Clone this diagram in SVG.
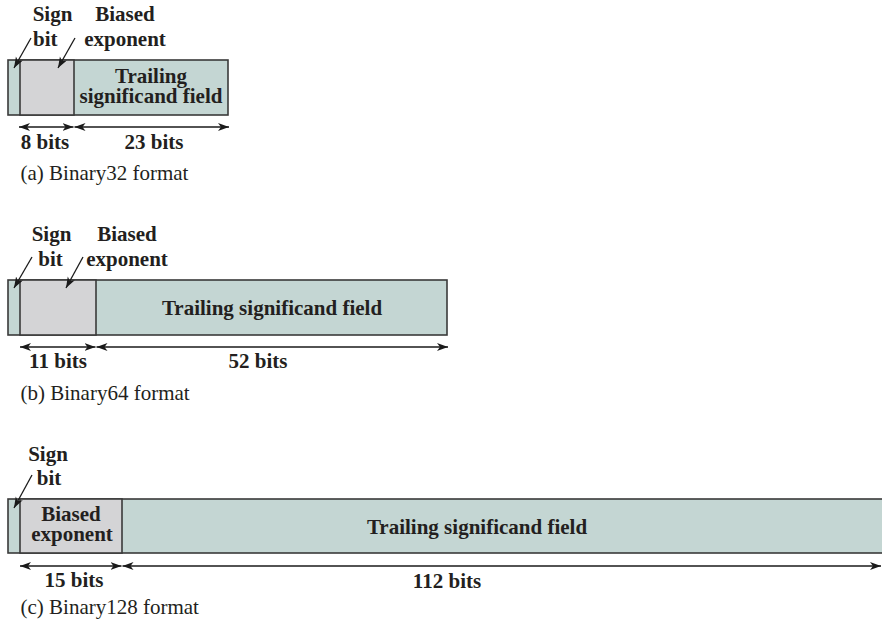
<svg xmlns="http://www.w3.org/2000/svg" width="882" height="623" viewBox="0 0 882 623">
<defs>
<marker id="ah" markerUnits="userSpaceOnUse" markerWidth="12" markerHeight="10" refX="11" refY="4" orient="auto-start-reverse">
<path d="M0,0 L11,4 L0,8 L3,4 z" fill="#1a1a1a"/>
</marker>
<style>
.sig{fill:#c4d6d3;stroke:#3a3a3a;stroke-width:1.6}
.exp{fill:#d4d4d6;stroke:#3a3a3a;stroke-width:1.6}
.b{font-family:"Liberation Serif","Times New Roman",serif;font-weight:bold;font-size:21px;fill:#231f20}
.r{font-family:"Liberation Serif","Times New Roman",serif;font-size:21px;fill:#231f20}
.m{text-anchor:middle}
.ln{stroke:#1a1a1a;stroke-width:1.3;fill:none;marker-end:url(#ah)}
.dim{stroke:#1a1a1a;stroke-width:1.3;fill:none;marker-start:url(#ah);marker-end:url(#ah)}
</style>
</defs>

<!-- (a) Binary32 -->
<g id="binary32">
<rect class="sig" x="8" y="60" width="220" height="55"/>
<rect class="exp" x="20" y="60" width="54" height="55"/>
<text class="b m" x="52.5" y="21">Sign</text>
<text class="b" x="33" y="46">bit</text>
<text class="b m" x="125" y="21">Biased</text>
<text class="b m" x="125" y="46">exponent</text>
<text class="b m" x="151" y="83">Trailing</text>
<text class="b m" x="151" y="103">significand field</text>
<text class="b m" x="45" y="149">8 bits</text>
<text class="b m" x="154" y="149">23 bits</text>
<text class="r" x="20.5" y="180">(a) Binary32 format</text>
</g>

<!-- (b) Binary64 -->
<g id="binary64">
<rect class="sig" x="8" y="280" width="439" height="55"/>
<rect class="exp" x="20" y="280" width="76" height="55"/>
<text class="b m" x="51.5" y="241">Sign</text>
<text class="b m" x="50.5" y="266">bit</text>
<text class="b m" x="127" y="241">Biased</text>
<text class="b m" x="127" y="266">exponent</text>
<text class="b m" x="272" y="315">Trailing significand field</text>
<text class="b m" x="58" y="368">11 bits</text>
<text class="b m" x="258" y="368">52 bits</text>
<text class="r" x="20.5" y="400">(b) Binary64 format</text>
</g>

<!-- (c) Binary128 -->
<g id="binary128">
<rect class="sig" x="8" y="499" width="880" height="54"/>
<rect class="exp" x="20" y="499" width="102" height="54"/>
<text class="b m" x="48" y="461">Sign</text>
<text class="b m" x="49" y="485">bit</text>
<text class="b m" x="71" y="521">Biased</text>
<text class="b m" x="72" y="541">exponent</text>
<text class="b m" x="477" y="534">Trailing significand field</text>
<text class="b m" x="74" y="587">15 bits</text>
<text class="b m" x="447" y="588">112 bits</text>
<text class="r" x="20.5" y="614">(c) Binary128 format</text>
</g>

<g id="connectors">
<line class="ln" x1="31" y1="38" x2="14" y2="68"/>
<line class="ln" x1="75" y1="38" x2="58" y2="68"/>
<line class="dim" x1="19" y1="127" x2="73.5" y2="127"/>
<line class="dim" x1="74.5" y1="127" x2="229" y2="127"/>

<line class="ln" x1="32" y1="257" x2="14" y2="288"/>
<line class="ln" x1="83" y1="257" x2="66" y2="288"/>
<line class="dim" x1="20" y1="347" x2="95.5" y2="347"/>
<line class="dim" x1="96.5" y1="347" x2="448" y2="347"/>

<line class="ln" x1="32" y1="475" x2="14" y2="508"/>
<line class="dim" x1="20" y1="566" x2="121.5" y2="566"/>
<line class="dim" x1="122.5" y1="566" x2="881" y2="566"/>
</g>
</svg>
